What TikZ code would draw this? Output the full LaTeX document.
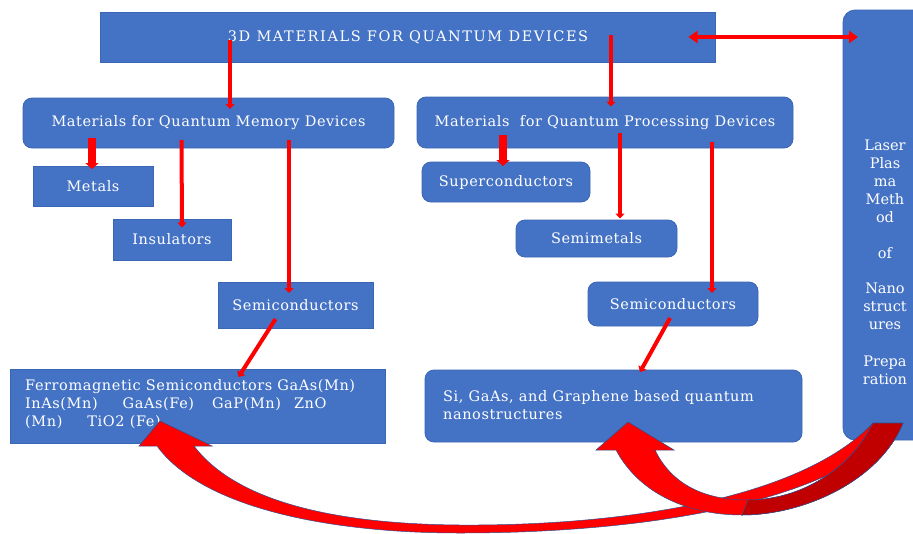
\documentclass[tikz,border=0pt]{standalone}
\usepackage{fontspec}
\setmainfont{DejaVu Serif}
\newfontfamily\ttl{DejaVu Serif}[LetterSpace=11]
\newfontfamily\bdy{DejaVu Serif}[LetterSpace=4]
\usetikzlibrary{calc,arrows.meta}
\definecolor{boxblue}{HTML}{4472C4}
\definecolor{boxedge}{HTML}{3B66B5}
\definecolor{arrred}{HTML}{FF0000}
\definecolor{darkred}{HTML}{C00000}
\definecolor{outl}{HTML}{2F4F8F}
\tikzset{
  box/.style={fill=boxblue, draw=boxedge, line width=0.8pt, inner sep=0pt, text=white, font=\bdy\fontsize{14.5}{18}\selectfont},
  rbox/.style={box, rounded corners=9pt},
  arr/.style={draw=arrred, line width=4pt, -{Triangle[width=9pt,length=5pt]}},
  fatarr/.style={draw=arrred, line width=8pt, -{Triangle[width=13pt,length=6pt]}},
  darr/.style={draw=arrred, line width=4pt, {Triangle[width=12pt,length=9pt]}-{Triangle[width=12pt,length=9pt]}},
  bigarr/.style={fill=arrred, draw=outl, line width=0.5pt},
}
\begin{document}
\begin{tikzpicture}[x=1pt,y=-1pt]
\clip (0,0) rectangle (913,533);
\fill[white] (0,0) rectangle (913,533);

% boxes
\node[box, minimum width=615pt, minimum height=50pt, font=\ttl\fontsize{14.5}{18}\selectfont] (top) at (408,37) {3D MATERIALS FOR QUANTUM DEVICES};
\node[rbox, minimum width=84pt, minimum height=430pt, rounded corners=12pt] (laser) at (885,225) {};
\node[text=white, align=center, font=\fontsize{14.5}{18}\selectfont] (lasertext) at (885,262)
  {Laser\\Plas\\ma\\Meth\\od\\[18pt]of\\[17pt]Nano\\struct\\ures\\[19pt]Prepa\\ration};

\node[rbox, minimum width=371pt, minimum height=50pt] (mem) at (208.5,123) {Materials for Quantum Memory Devices};
\node[rbox, minimum width=376pt, minimum height=51pt] (proc) at (605,122.5) {Materials\ \ for Quantum Processing Devices};

\node[box, minimum width=120pt, minimum height=40pt] (metals) at (93,186) {Metals};
\node[box, minimum width=118pt, minimum height=41pt] (ins) at (172,239.5) {Insulators};
\node[box, minimum width=155pt, minimum height=46pt] (semil) at (295.5,305) {Semiconductors};

\node[rbox, minimum width=168pt, minimum height=40pt] (super) at (506,182) {Superconductors};
\node[rbox, minimum width=161pt, minimum height=37pt] (semimet) at (596.5,238.5) {Semimetals};
\node[rbox, minimum width=170pt, minimum height=44pt] (semir) at (673,304) {Semiconductors};

\node[box, minimum width=375pt, minimum height=74pt] (ferro) at (197.5,406) {};
\node[text=white, align=left, anchor=north west, inner sep=0pt, font=\bdy\fontsize{14.5}{18}\selectfont] (ferrotext) at (25,379)
  {Ferromagnetic Semiconductors GaAs(Mn)\\InAs(Mn)\hspace{25pt}GaAs(Fe)\hspace{18pt}GaP(Mn)\hspace{13pt}ZnO\\(Mn)\hspace{25pt}TiO2 (Fe)};

\node[rbox, minimum width=377pt, minimum height=72pt] (si) at (613.5,406) {};
\node[text=white, align=left, anchor=north west, inner sep=0pt, font=\bdy\fontsize{14.5}{18}\selectfont] (sitext) at (443,390)
  {Si, GaAs, and Graphene based quantum\\nanostructures};

% straight arrows
\draw[arr] ($(top.center)+(-178,3)$) -- ($(mem.center)+(21.5,-14)$);
\draw[arr] ($(top.center)+(203,-2)$) -- ($(proc.center)+(6,-16)$);
\draw[fatarr] ($(mem.center)+(-116.5,15)$) -- ($(metals.center)+(-1,-17)$);
\draw[arr] ($(mem.center)+(-27,17)$) -- ($(ins.center)+(10,-12)$);
\draw[arr] ($(mem.center)+(80.5,17)$) -- ($(semil.center)+(-6.5,-12)$);
\draw[fatarr] ($(proc.center)+(-102,12)$) -- ($(super.center)+(-3,-16)$);
\draw[arr] ($(proc.center)+(15,10)$) -- ($(semimet.center)+(23.5,-20)$);
\draw[arr] ($(proc.center)+(107,19)$) -- ($(semir.center)+(39,-11)$);
\draw[arr] ($(semil.center)+(-20,14)$) -- ($(ferro.center)+(41,-29)$);
\draw[arr] ($(semir.center)+(-3,14)$) -- ($(si.center)+(26.5,-34)$);
\draw[darr] ($(top.center)+(280.5,0)$) -- ($(laser.center)+(-27,-188)$);

% big curved arrow to ferro
\path[bigarr] (160,421) -- (212,446) -- (194,446)
  .. controls (235,500) and (330,524) .. (460,525)
  .. controls (620,526) and (800,500) .. (873,423)
  -- (903,423)
  .. controls (830,505) and (640,533) .. (460,533)
  .. controls (320,533) and (200,505) .. (157,446)
  -- (139,446) -- cycle;
% big curved arrow to si
\path[bigarr] (628,422) -- (674,450) -- (655,450)
  .. controls (672,485) and (705,500) .. (748,500)
  .. controls (800,500) and (850,470) .. (873,423)
  -- (903,423)
  .. controls (880,480) and (805,515) .. (742,515)
  .. controls (690,515) and (640,495) .. (616,450)
  -- (596,450) -- cycle;
\path[fill=darkred, draw=outl, line width=0.5pt] (873,423)
  .. controls (850,470) and (800,500) .. (748,500)
  -- (742,515) .. controls (805,515) and (880,480) .. (903,423) -- cycle;
\end{tikzpicture}
\end{document}
